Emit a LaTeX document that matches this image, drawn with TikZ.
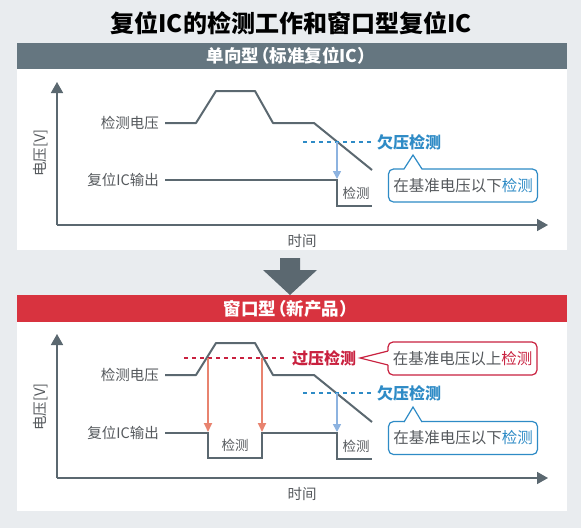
\documentclass[tikz,border=0pt]{standalone}
\usepackage{fontspec}
\setmainfont{Noto Sans CJK SC}
\usetikzlibrary{arrows.meta}
\definecolor{bg}{HTML}{E9ECEF}
\definecolor{hdgray}{HTML}{657680}
\definecolor{hdred}{HTML}{D8333F}
\definecolor{ln}{HTML}{5B6870}
\definecolor{txt}{HTML}{55595D}
\definecolor{bl}{HTML}{2E8BC6}
\definecolor{lbl}{HTML}{8DB3E0}
\definecolor{rd}{HTML}{C9213F}
\definecolor{sal}{HTML}{E8836F}
\newcommand{\lpar}{\hspace{-7pt}（}
\newcommand{\rpar}{）\hspace{-5pt}}
\tikzset{
  axis/.style={draw=ln, line width=1.6pt, -{Triangle[width=12pt,length=11pt]}},
  sig/.style={draw=ln, line width=2pt},
  lab/.style={text=txt, font=\fontsize{14.5}{16}\selectfont, inner sep=0pt},
  small/.style={text=txt, font=\fontsize{13.5}{15}\selectfont, inner sep=0pt},
  hdr/.style={text=white, font=\bfseries\fontsize{17.5}{19}\selectfont, inner sep=0pt},
  bdash/.style={draw=bl, line width=1.8pt, dash pattern=on 4pt off 4pt},
  rdash/.style={draw=rd, line width=1.8pt, dash pattern=on 4pt off 4pt},
  barrow/.style={draw=lbl, line width=1.6pt, -{Triangle[width=8pt,length=8pt]}},
  rarrow/.style={draw=sal, line width=1.8pt, -{Triangle[width=8pt,length=9pt]}},
  tag/.style={font=\bfseries\fontsize{16}{18}\selectfont, inner sep=0pt},
  cbox/.style={fill=white, line width=1.2pt, rounded corners=5pt, minimum width=149pt, minimum height=33pt, inner sep=0pt, text=txt, font=\fontsize{15.5}{17}\selectfont},
}
\begin{document}
\begin{tikzpicture}[x=1pt,y=-1pt]
\fill[bg] (0,0) rectangle (581,528);
\useasboundingbox (0,0) rectangle (581,528);
% title
\node[font=\bfseries\fontsize{24}{26}\selectfont, inner sep=0pt] (title) at (291,23) {复位IC的检测工作和窗口型复位IC};
% panel 1
\fill[white] (16.5,69) rectangle (566.5,250);
\fill[hdgray] (16.5,43) rectangle (566.5,69);
\node[hdr] (h1) at (291,56) {单向型\lpar 标准复位IC\rpar};
% arrow between
\fill[ln] (280,258) -- (300,258) -- (300,270) -- (317,270) -- (290,295) -- (263,270) -- (280,270) -- cycle;
% panel 2
\fill[white] (16.5,322) rectangle (566.5,511);
\fill[hdred] (16.5,295) rectangle (566.5,322);
\node[hdr] (h2) at (290,308.5) {窗口型\lpar 新产品\rpar};

% ---------- panel 1 chart
\coordinate (o1) at (57,225);
\coordinate (yt1) at (57,82);
\coordinate (xt1) at (548,225);
\draw[axis] (o1) -- (yt1);
\draw[axis] (o1) -- (xt1);
\node[lab, rotate=90] (yl1) at (41,153) {电压[V]};
\node[lab] (xl1) at (302,241) {时间};
\node[lab, anchor=east] (dv1) at (159,123) {检测电压};
\node[lab, anchor=east] (ro1) at (159,180) {复位IC输出};
\draw[sig, line join=round] (165,123) -- (196,123) -- (216,91) -- (255,91) -- (273,123) -- (314,123) -- (372,170);
\draw[sig] (165,180) -- (337,180) -- (337,206) -- (372,206);
\draw[bdash] (303,142) -- (371,142);
\node[tag, text=bl, anchor=west] (uv1) at (377,142) {欠压检测};
\draw[barrow] (337,142) -- (337,179);
\node[small] (d1) at (356,193) {检测};
\node[cbox, draw=bl] (cb1) at (463,185.5) {在基准电压以下\textcolor{bl}{检测}};
\fill[white] (404,170.2) -- (413,155) -- (422,170.2) -- cycle;
\draw[bl, line width=1.2pt, line join=miter] (404,169) -- (413,155) -- (422,169);

% ---------- panel 2 chart
\coordinate (o2) at (57,478);
\coordinate (yt2) at (57,334);
\coordinate (xt2) at (548,478);
\draw[axis] (o2) -- (yt2);
\draw[axis] (o2) -- (xt2);
\node[lab, rotate=90] (yl2) at (41,407) {电压[V]};
\node[lab] (xl2) at (302,494) {时间};
\node[lab, anchor=east] (dv2) at (159,375) {检测电压};
\node[lab, anchor=east] (ro2) at (159,433) {复位IC输出};
\draw[sig, line join=round] (165,375) -- (196,375) -- (216,343) -- (255,343) -- (273,375) -- (314,375) -- (372,422);
\draw[sig] (165,433) -- (208,433) -- (208,458) -- (262,458) -- (262,433) -- (337,433) -- (337,459) -- (372,459);
% overvoltage
\draw[rdash] (184,358) -- (287,358);
\node[tag, text=rd, anchor=west] (ov) at (292,358) {过压检测};
\draw[rarrow] (208,358) -- (208,432);
\draw[rarrow] (262,358) -- (262,432);
\node[small] (d2) at (235,445) {检测};
\node[cbox, draw=rd] (cb2) at (462.5,358.5) {在基准电压以上\textcolor{rd}{检测}};
\fill[white] (389.2,351) -- (360,358) -- (389.2,365) -- cycle;
\draw[rd, line width=1.2pt, line join=miter] (388,351) -- (360,358) -- (388,365);
% undervoltage
\draw[bdash] (303,393) -- (371,393);
\node[tag, text=bl, anchor=west] (uv2) at (377,393) {欠压检测};
\draw[barrow] (337,393) -- (337,432);
\node[small] (d3) at (356,446) {检测};
\node[cbox, draw=bl] (cb3) at (463,438) {在基准电压以下\textcolor{bl}{检测}};
\fill[white] (404,423.2) -- (413,407) -- (422,423.2) -- cycle;
\draw[bl, line width=1.2pt, line join=miter] (404,422) -- (413,407) -- (422,422);
\end{tikzpicture}
\end{document}
